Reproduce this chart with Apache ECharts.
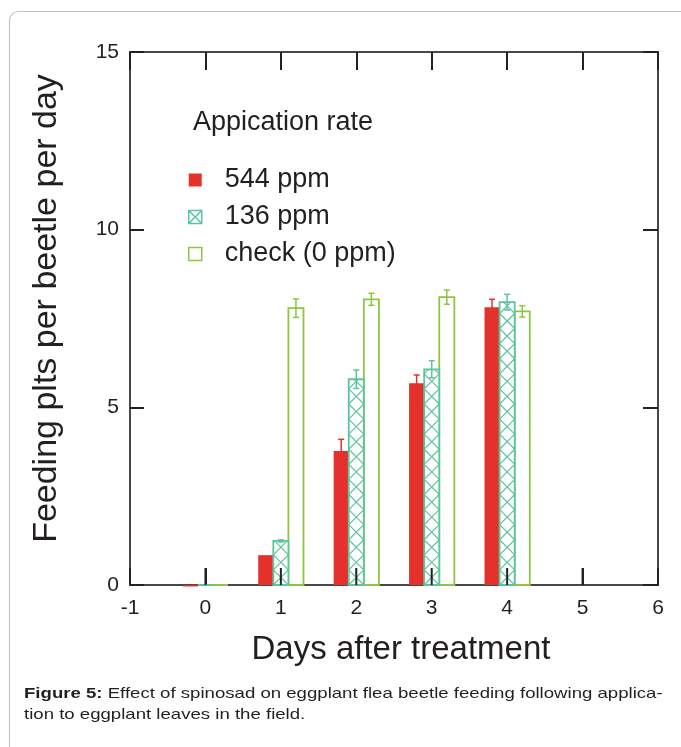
<!DOCTYPE html>
<html>
<head>
<meta charset="utf-8">
<script src="https://cdn.jsdelivr.net/npm/echarts@6/dist/echarts.min.js"></script>
<style>
  html, body { margin: 0; padding: 0; background: #fff; }
  #chart { width: 681px; height: 747px; }
</style>
</head>
<body>
<div id="chart"></div>
<script>
// days after treatment
var days = [0, 1, 2, 3, 4];
// feeding pits per beetle per day
var rate544 = [0, 0.84, 3.77, 5.68, 7.82];
var rate544Err = [0, 0, 0.33, 0.23, 0.22];
var rate136 = [0, 1.24, 5.79, 6.07, 7.96];
var rate136Err = [0, 0.03, 0.26, 0.24, 0.22];
var rateCheck = [0, 7.79, 8.04, 8.10, 7.70];
var rateCheckErr = [0, 0.26, 0.17, 0.2, 0.16];
var seriesNames = ["544 ppm", "136 ppm", "check (0 ppm)"];
// inward tick marks on the bottom axis
var bottomTicks = [0, 1, 2, 3, 4, 5];

var RED = "#e4312b", TEAL = "#5cc59d", GREEN = "#8dc63f";
var GRID_H = 747 - 52 - 162;

function zipData(vals, errs) {
  return days.map(function (d, i) { return [d, vals[i], errs[i]]; });
}

// draws one bar with error bar; offset in category units, kind = solid|hatch|open
function makeRender(offset, color, kind) {
  return function (params, api) {
    var day = api.value(0), val = api.value(1), err = api.value(2);
    var top = api.coord([day, val]);
    var base = api.coord([day, 0]);
    var unit = api.size([1, 0])[0];
    var w = unit * 0.2;
    var cx = top[0] + offset * unit;
    var x0 = cx - w / 2, x1 = cx + w / 2;
    var h = base[1] - top[1];
    var kids = [];
    if (kind === "solid") {
      kids.push({ type: "rect", shape: { x: x0, y: top[1], width: w, height: Math.max(h, 1.5) },
        style: { fill: color, stroke: null } });
    } else {
      kids.push({ type: "rect", shape: { x: x0, y: top[1], width: w, height: h },
        style: { fill: "#fff", stroke: color, lineWidth: 1.8 } });
    }
    if (kind === "hatch" && h > 2) {
      // X hatch, each cross spans w vertically, clipped at bar top
      var step = w;
      for (var y = base[1]; y > top[1] + 0.5; y -= step) {
        var yEnd = Math.max(y - step, top[1]);
        var frac = (y - yEnd) / step;
        kids.push({ type: "line", shape: { x1: x0, y1: y, x2: x0 + w * frac, y2: yEnd },
          style: { stroke: color, lineWidth: 1.2 } });
        kids.push({ type: "line", shape: { x1: x1, y1: y, x2: x1 - w * frac, y2: yEnd },
          style: { stroke: color, lineWidth: 1.2 } });
      }
    }
    if (err > 0) {
      var hi = api.coord([day, val + err])[1];
      var lo = api.coord([day, Math.max(val - err, 0)])[1];
      var cap = 3;
      kids.push({ type: "line", shape: { x1: cx, y1: hi, x2: cx, y2: lo }, style: { stroke: color, lineWidth: 1.5 } });
      kids.push({ type: "line", shape: { x1: cx - cap, y1: hi, x2: cx + cap, y2: hi }, style: { stroke: color, lineWidth: 1.5 } });
      kids.push({ type: "line", shape: { x1: cx - cap, y1: lo, x2: cx + cap, y2: lo }, style: { stroke: color, lineWidth: 1.5 } });
    }
    return { type: "group", children: kids };
  };
}

function renderTick(params, api) {
  var p = api.coord([api.value(0), 0]);
  return { type: "line", shape: { x1: p[0], y1: p[1], x2: p[0], y2: p[1] - 17 },
    style: { stroke: "#222", lineWidth: 2 } };
}

var axisLineStyle = { color: "#484848", width: 2 };
var tickStyle = { color: "#222", width: 2 };
var labelFont = { fontFamily: "Liberation Sans", fontSize: 21, color: "#231f20" };

var chart = echarts.init(document.getElementById("chart"));
chart.setOption({
  animation: false,
  backgroundColor: "#fff",
  grid: { left: 130, right: 23, top: 52, bottom: 162 },
  title: {
    text: "Appication rate", left: 188, top: 104,
    textStyle: { fontFamily: "Liberation Sans", fontSize: 27, fontWeight: "normal", color: "#231f20" }
  },
  legend: {
    orient: "vertical", left: 183, top: 161, itemWidth: 13, itemHeight: 13, itemGap: 9,
    textStyle: { fontFamily: "Liberation Sans", fontSize: 27, color: "#231f20", lineHeight: 28, padding: [0, 0, 0, 18] },
    data: [
      { name: seriesNames[0], icon: "rect", itemStyle: { color: RED, borderWidth: 0 } },
      { name: seriesNames[1], icon: "path://M1,1H11V11H1Z M1,1L11,11 M11,1L1,11",
        itemStyle: { color: "#fff", borderColor: TEAL, borderWidth: 1.5 } },
      { name: seriesNames[2], icon: "rect", itemStyle: { color: "#fff", borderColor: GREEN, borderWidth: 1.5 } }
    ]
  },
  xAxis: [{
    type: "value", min: -1, max: 6, interval: 1, position: "bottom",
    name: "Days after treatment", nameLocation: "middle", nameGap: 48,
    nameTextStyle: { fontFamily: "Liberation Sans", fontSize: 33, color: "#231f20", padding: [0, 0, 0, 14] },
    axisLine: { show: true, onZero: false, lineStyle: axisLineStyle },
    axisTick: { show: false },
    axisLabel: Object.assign({ margin: 13 }, labelFont),
    splitLine: { show: false }
  }, {
    type: "value", min: -1, max: 6, interval: 1, position: "top",
    axisLine: { show: true, onZero: false, lineStyle: axisLineStyle },
    axisTick: { show: true, inside: true, length: 18, lineStyle: tickStyle },
    axisLabel: { show: false },
    splitLine: { show: false }
  }, {
    // top-type axis pulled down onto the bottom edge; its outward ticks point up into the plot
    type: "value", min: -1, max: 6, interval: 1, position: "top", offset: -GRID_H,
    axisLine: { show: false, onZero: false },
    axisTick: { show: true, inside: false, length: 17, lineStyle: tickStyle },
    axisLabel: { show: false },
    splitLine: { show: false }
  }],
  yAxis: [{
    type: "value", min: 0, max: 15, interval: 5, position: "left",
    name: "Feeding plts per beetle per day", nameLocation: "middle", nameGap: 66,
    nameTextStyle: { fontFamily: "Liberation Sans", fontSize: 34, color: "#231f20", padding: [0, 0, 0, 20] },
    axisLine: { show: true, onZero: false, lineStyle: axisLineStyle },
    axisTick: { show: true, inside: true, length: 14, lineStyle: tickStyle },
    axisLabel: Object.assign({ margin: 11 }, labelFont),
    splitLine: { show: false }
  }, {
    type: "value", min: 0, max: 15, interval: 5, position: "right",
    axisLine: { show: true, onZero: false, lineStyle: axisLineStyle },
    axisTick: { show: true, inside: true, length: 15, lineStyle: tickStyle },
    axisLabel: { show: false },
    splitLine: { show: false }
  }],
  series: [
    { name: seriesNames[0], type: "custom", renderItem: makeRender(-0.2, RED, "solid"),
      itemStyle: { color: RED }, encode: { x: 0, y: 1 }, data: zipData(rate544, rate544Err), z: 3 },
    { name: seriesNames[1], type: "custom", renderItem: makeRender(0, TEAL, "hatch"),
      itemStyle: { color: TEAL }, encode: { x: 0, y: 1 }, data: zipData(rate136, rate136Err), z: 4 },
    { name: seriesNames[2], type: "custom", renderItem: makeRender(0.2, GREEN, "open"),
      itemStyle: { color: GREEN }, encode: { x: 0, y: 1 }, data: zipData(rateCheck, rateCheckErr), z: 3 },
    { name: "ticks", type: "custom", renderItem: renderTick, silent: true, z: 6, clip: false,
      encode: { x: 0, y: 1 }, data: bottomTicks.map(function (t) { return [t, 0]; }) }
  ],
  graphic: [
    { type: "rect", left: 7, top: 9, silent: true, z: -1,
      shape: { width: 720, height: 780, r: 9 },
      style: { fill: "none", stroke: "#c4c4c4", lineWidth: 1.2 } },
    { type: "text", x: 24, y: 683, scaleX: 1.24,
      style: {
        text: "{b|Figure 5:} Effect of spinosad on eggplant flea beetle feeding following applica-\ntion to eggplant leaves in the field.",
        font: "15px 'Liberation Sans'", fill: "#231f20", lineHeight: 21,
        rich: { b: { fontWeight: "bold", fontSize: 15, fontFamily: "Liberation Sans", fill: "#231f20" } }
      } }
  ]
});
</script>
</body>
</html>
